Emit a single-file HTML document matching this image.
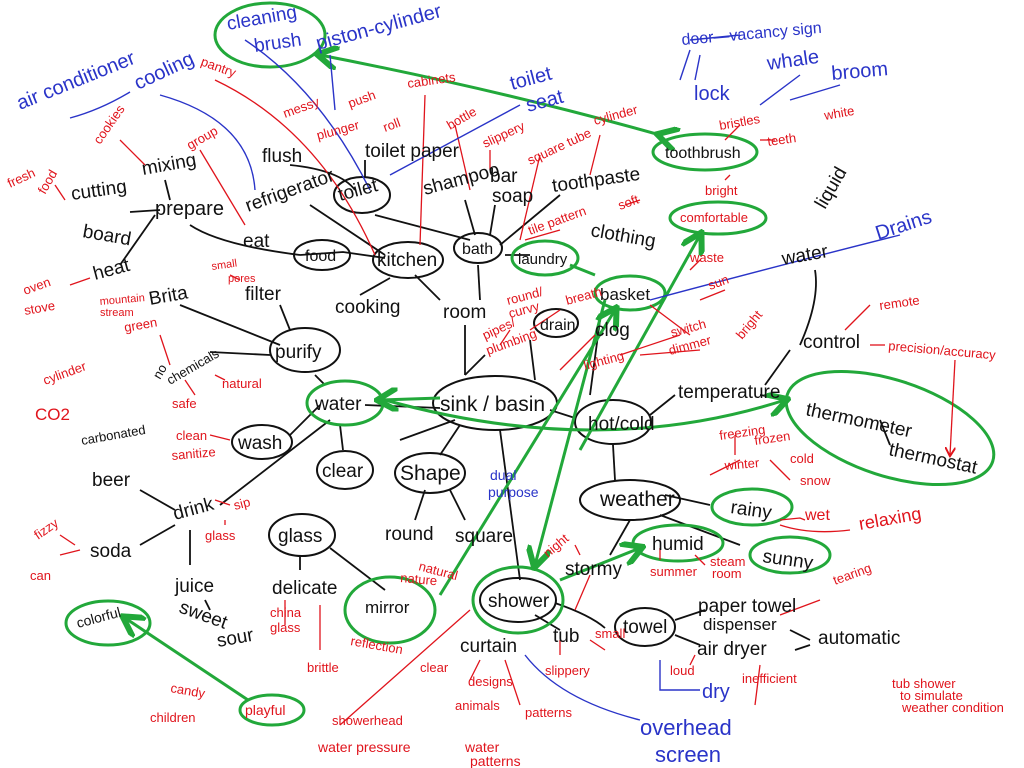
<!DOCTYPE html>
<html><head><meta charset="utf-8"><style>
html,body{margin:0;padding:0;background:#fff;}
svg{display:block;}
text{font-family:"Liberation Sans",sans-serif;}
.k{fill:#111;font-size:19px;}
.r{fill:#e0141c;font-size:13px;}
.b{fill:#2a34c8;font-size:20px;}
.ke{fill:none;stroke:#111;stroke-width:2;}
.ge{fill:none;stroke:#22a83a;stroke-width:3;}
.kl{fill:none;stroke:#111;stroke-width:1.8;}
.rl{fill:none;stroke:#e0141c;stroke-width:1.3;}
.bl{fill:none;stroke:#2a34c8;stroke-width:1.4;}
.gl{fill:none;stroke:#22a83a;stroke-width:3;}
</style></head><body>
<svg width="1024" height="768" viewBox="0 0 1024 768" xmlns="http://www.w3.org/2000/svg">
<defs>
<marker id="ga" markerWidth="8" markerHeight="8" refX="6" refY="4" orient="auto"><path d="M0,0 L7,4 L0,8" fill="none" stroke="#22a83a" stroke-width="2"/></marker>
<marker id="ra" markerWidth="8" markerHeight="8" refX="6" refY="4" orient="auto"><path d="M0,0 L7,4 L0,8" fill="none" stroke="#e0141c" stroke-width="1.5"/></marker>
</defs>

<g class="kl">
<path d="M465,325 L465,375"/><path d="M440,300 L415,275"/><path d="M480,300 L478,265"/>
<path d="M390,278 L360,295"/><path d="M300,255 L343,252 L385,258"/>
<path d="M190,225 Q220,245 300,255"/><path d="M155,215 L120,265"/><path d="M160,210 L130,212"/>
<path d="M165,180 L170,200"/><path d="M310,205 L385,255"/><path d="M375,215 L470,240"/>
<path d="M290,165 Q340,170 355,190"/><path d="M365,178 L365,160"/>
<path d="M465,200 L475,235"/><path d="M495,205 L490,235"/><path d="M500,245 L560,195"/>
<path d="M505,255 L530,255"/><path d="M530,340 L535,380"/><path d="M600,320 L590,395"/>
<path d="M440,408 L365,405"/><path d="M460,425 L440,455"/><path d="M500,430 L520,580"/>
<path d="M455,420 L400,440"/><path d="M550,410 L575,418"/>
<path d="M650,415 L675,395"/><path d="M613,445 L615,480"/>
<path d="M660,515 L740,545"/><path d="M665,495 L710,505"/><path d="M630,520 L610,555"/>
<path d="M555,603 Q590,615 605,628"/><path d="M535,615 L560,630"/>
<path d="M675,620 L705,610"/><path d="M675,635 L700,645"/>
<path d="M790,630 L810,640"/><path d="M795,650 L810,645"/>
<path d="M325,385 L315,375"/><path d="M340,425 L343,450"/><path d="M320,405 L290,435"/>
<path d="M290,330 L280,305"/><path d="M280,345 L180,305"/><path d="M270,355 L210,352"/>
<path d="M330,420 L220,505"/><path d="M300,555 L300,570"/><path d="M330,548 L385,590"/>
<path d="M190,530 L190,565"/><path d="M175,525 L140,545"/><path d="M175,510 L140,490"/>
<path d="M205,600 L210,610"/><path d="M425,490 L415,520"/><path d="M450,490 L465,520"/>
<path d="M485,355 L465,375"/><path d="M800,345 Q820,300 815,270"/><path d="M790,350 L765,385"/>
<path d="M880,420 L890,445"/><path d="M760,395 L790,400"/>
</g>

<g class="ke">
<ellipse cx="495" cy="403" rx="62" ry="27"/>
<ellipse cx="613" cy="422" rx="38" ry="22"/>
<ellipse cx="630" cy="500" rx="50" ry="20"/>
<ellipse cx="518" cy="600" rx="38" ry="22"/>
<ellipse cx="645" cy="627" rx="30" ry="19"/>
<ellipse cx="430" cy="473" rx="35" ry="20"/>
<ellipse cx="345" cy="470" rx="28" ry="19"/>
<ellipse cx="302" cy="535" rx="33" ry="21"/>
<ellipse cx="262" cy="442" rx="30" ry="17"/>
<ellipse cx="305" cy="350" rx="35" ry="22"/>
<ellipse cx="408" cy="260" rx="35" ry="18"/>
<ellipse cx="322" cy="255" rx="28" ry="15"/>
<ellipse cx="362" cy="195" rx="28" ry="18"/>
<ellipse cx="478" cy="248" rx="24" ry="15"/>
<ellipse cx="556" cy="323" rx="22" ry="14"/>
</g>

<g class="ge">
<ellipse cx="270" cy="35" rx="55" ry="32"/>
<ellipse cx="705" cy="152" rx="52" ry="18"/>
<ellipse cx="718" cy="218" rx="48" ry="16"/>
<ellipse cx="545" cy="258" rx="33" ry="17"/>
<ellipse cx="630" cy="293" rx="35" ry="17"/>
<ellipse cx="345" cy="403" rx="38" ry="22"/>
<ellipse cx="890" cy="428" rx="108" ry="48" transform="rotate(18 890 428)"/>
<ellipse cx="752" cy="507" rx="40" ry="18"/>
<ellipse cx="790" cy="555" rx="40" ry="18"/>
<ellipse cx="678" cy="543" rx="45" ry="18"/>
<ellipse cx="518" cy="600" rx="45" ry="33"/>
<ellipse cx="390" cy="610" rx="45" ry="33"/>
<ellipse cx="108" cy="623" rx="42" ry="22"/>
<ellipse cx="272" cy="710" rx="32" ry="15"/>
</g>

<g class="gl">
<path d="M660,135 Q500,90 320,55" marker-end="url(#ga)" marker-start="url(#ga)"/>
<path d="M580,450 L700,235" marker-end="url(#ga)"/>
<path d="M605,300 L535,565" marker-end="url(#ga)"/>
<path d="M595,275 L570,265"/>
<path d="M440,595 L615,310" marker-end="url(#ga)"/>
<path d="M385,400 Q600,460 785,400" marker-end="url(#ga)"/>
<path d="M440,398 L380,400" marker-end="url(#ga)"/>
<path d="M560,580 L640,548" marker-end="url(#ga)"/>
<path d="M248,700 L125,618" marker-end="url(#ga)"/>
</g>

<g class="rl">
<path d="M215,80 Q320,130 375,255"/><path d="M425,95 L420,245"/><path d="M455,125 L470,190"/>
<path d="M120,140 L145,165"/><path d="M200,150 L245,225"/><path d="M55,185 L65,200"/>
<path d="M70,285 L90,278"/><path d="M230,275 L240,280"/><path d="M160,335 L170,365"/>
<path d="M185,380 L195,395"/><path d="M215,375 L225,380"/><path d="M210,435 L230,440"/>
<path d="M215,500 L230,505"/><path d="M60,555 L80,550"/><path d="M60,535 L75,545"/>
<path d="M225,525 L225,520"/><path d="M285,600 L285,625"/><path d="M320,605 L320,650"/>
<path d="M340,725 L470,610"/><path d="M575,610 L590,575"/><path d="M560,640 L560,655"/>
<path d="M590,640 L605,650"/><path d="M480,660 L470,680"/><path d="M505,660 L520,705"/>
<path d="M755,705 L760,665"/><path d="M690,665 L695,655"/><path d="M780,615 L820,600"/>
<path d="M780,520 L800,518 L805,520"/><path d="M780,525 Q810,535 850,530"/>
<path d="M740,460 L710,475"/><path d="M770,460 L790,480"/><path d="M735,435 L735,455"/>
<path d="M660,548 L660,560"/><path d="M695,555 L705,565"/><path d="M575,545 L580,555"/>
<path d="M870,305 L845,330"/><path d="M870,345 L885,345"/><path d="M955,360 L950,455" marker-end="url(#ra)"/>
<path d="M560,370 L595,335"/><path d="M620,355 L680,335"/><path d="M640,355 L700,350"/>
<path d="M690,270 L700,260"/><path d="M700,300 L725,290"/><path d="M650,305 L690,335"/>
<path d="M560,230 L525,240"/><path d="M500,345 L510,330"/><path d="M530,330 L560,310"/>
<path d="M540,155 L520,240"/><path d="M600,135 L590,175"/><path d="M730,175 L725,180"/>
<path d="M760,140 L775,140"/><path d="M740,125 L725,140"/><path d="M625,205 L640,200"/>
<path d="M490,150 L490,170"/>
</g>

<g class="bl">
<path d="M70,118 Q100,110 130,92"/><path d="M160,95 Q250,120 255,190"/>
<path d="M245,40 Q320,90 370,190"/><path d="M330,55 L335,110"/><path d="M390,175 L520,105"/>
<path d="M690,40 L740,35"/><path d="M700,55 L695,80"/><path d="M680,80 L690,50"/>
<path d="M760,105 L800,75"/><path d="M790,100 L840,85"/><path d="M650,300 Q800,260 900,235"/>
<path d="M525,655 Q560,700 640,720"/><path d="M660,660 L660,690 L700,690"/>
</g>

<g class="k">
<text x="440" y="411" font-size="21">sink / basin</text>
<text x="588" y="430">hot/cold</text>
<text x="678" y="398">temperature</text>
<text x="805" y="415" transform="rotate(12 805 415)">thermometer</text>
<text x="888" y="455" transform="rotate(12 888 455)">thermostat</text>
<text x="803" y="348">control</text>
<text x="783" y="265" transform="rotate(-10 783 265)">water</text>
<text x="825" y="210" transform="rotate(-60 825 210)">liquid</text>
<text x="600" y="506" font-size="21">weather</text>
<text x="730" y="513" transform="rotate(8 730 513)">rainy</text>
<text x="762" y="562" transform="rotate(8 762 562)">sunny</text>
<text x="652" y="550">humid</text>
<text x="565" y="575">stormy</text>
<text x="488" y="607">shower</text>
<text x="553" y="642">tub</text>
<text x="460" y="652">curtain</text>
<text x="623" y="633">towel</text>
<text x="698" y="612">paper towel</text>
<text x="703" y="630" font-size="17">dispenser</text>
<text x="697" y="655">air dryer</text>
<text x="818" y="644">automatic</text>
<text x="400" y="480" font-size="21">Shape</text>
<text x="385" y="540">round</text>
<text x="455" y="542">square</text>
<text x="322" y="477">clear</text>
<text x="278" y="542">glass</text>
<text x="272" y="594">delicate</text>
<text x="365" y="613" font-size="17">mirror</text>
<text x="315" y="410">water</text>
<text x="238" y="449">wash</text>
<text x="275" y="358">purify</text>
<text x="245" y="300">filter</text>
<text x="150" y="305" transform="rotate(-10 150 305)">Brita</text>
<text x="160" y="380" font-size="13" transform="rotate(-60 160 380)">no</text>
<text x="170" y="385" font-size="13" transform="rotate(-30 170 385)">chemicals</text>
<text x="82" y="445" font-size="13" transform="rotate(-10 82 445)">carbonated</text>
<text x="92" y="486">beer</text>
<text x="175" y="520" transform="rotate(-15 175 520)">drink</text>
<text x="90" y="557">soda</text>
<text x="175" y="592">juice</text>
<text x="178" y="612" transform="rotate(20 178 612)">sweet</text>
<text x="218" y="647" transform="rotate(-10 218 647)">sour</text>
<text x="78" y="628" font-size="14" transform="rotate(-15 78 628)">colorful</text>
<text x="245" y="715" font-size="14" fill="#e0141c">playful</text>
<text x="443" y="318">room</text>
<text x="335" y="313">cooking</text>
<text x="377" y="266">kitchen</text>
<text x="305" y="261" font-size="16">food</text>
<text x="243" y="247">eat</text>
<text x="155" y="215" font-size="20">prepare</text>
<text x="143" y="175" transform="rotate(-10 143 175)">mixing</text>
<text x="72" y="200" transform="rotate(-8 72 200)">cutting</text>
<text x="82" y="237" transform="rotate(10 82 237)">board</text>
<text x="95" y="280" transform="rotate(-15 95 280)">heat</text>
<text x="248" y="212" transform="rotate(-20 248 212)">refrigerator</text>
<text x="262" y="162">flush</text>
<text x="340" y="201" transform="rotate(-15 340 201)">toilet</text>
<text x="365" y="157">toilet paper</text>
<text x="425" y="195" transform="rotate(-15 425 195)">shampoo</text>
<text x="462" y="254" font-size="16">bath</text>
<text x="490" y="182">bar</text>
<text x="492" y="202">soap</text>
<text x="553" y="192" transform="rotate(-8 553 192)">toothpaste</text>
<text x="665" y="158" font-size="16">toothbrush</text>
<text x="590" y="236" transform="rotate(10 590 236)">clothing</text>
<text x="518" y="264" font-size="15">laundry</text>
<text x="600" y="300" font-size="17">basket</text>
<text x="540" y="330" font-size="16">drain</text>
<text x="595" y="336">clog</text>
<text x="228" y="30" fill="#2a34c8" transform="rotate(-10 228 30)">cleaning</text>
<text x="255" y="52" fill="#2a34c8" transform="rotate(-8 255 52)">brush</text>
</g>

<g class="b">
<text x="318" y="50" transform="rotate(-15 318 50)">piston-cylinder</text>
<text x="20" y="110" transform="rotate(-22 20 110)">air conditioner</text>
<text x="138" y="90" transform="rotate(-25 138 90)">cooling</text>
<text x="512" y="90" transform="rotate(-15 512 90)">toilet</text>
<text x="528" y="112" transform="rotate(-15 528 112)">seat</text>
<text x="682" y="45" font-size="16" transform="rotate(-5 682 45)">door—vacancy sign</text>
<text x="694" y="100">lock</text>
<text x="768" y="70" transform="rotate(-8 768 70)">whale</text>
<text x="832" y="80" transform="rotate(-5 832 80)">broom</text>
<text x="878" y="240" transform="rotate(-18 878 240)">Drains</text>
<text x="490" y="480" font-size="14">dual</text>
<text x="488" y="497" font-size="14">purpose</text>
<text x="702" y="698">dry</text>
<text x="640" y="735" font-size="22">overhead</text>
<text x="655" y="762" font-size="22">screen</text>
</g>

<g class="r">
<text x="200" y="65" transform="rotate(20 200 65)">pantry</text>
<text x="285" y="118" transform="rotate(-20 285 118)">messy</text>
<text x="318" y="140" transform="rotate(-15 318 140)">plunger</text>
<text x="350" y="108" transform="rotate(-20 350 108)">push</text>
<text x="385" y="132" transform="rotate(-20 385 132)">roll</text>
<text x="408" y="88" transform="rotate(-8 408 88)">cabinets</text>
<text x="450" y="130" transform="rotate(-30 450 130)">bottle</text>
<text x="485" y="148" transform="rotate(-25 485 148)">slippery</text>
<text x="530" y="165" transform="rotate(-25 530 165)">square tube</text>
<text x="595" y="125" transform="rotate(-15 595 125)">cylinder</text>
<text x="530" y="235" transform="rotate(-20 530 235)">tile pattern</text>
<text x="620" y="210" transform="rotate(-20 620 210)">soft</text>
<text x="705" y="195">bright</text>
<text x="720" y="130" transform="rotate(-10 720 130)">bristles</text>
<text x="768" y="146" transform="rotate(-8 768 146)">teeth</text>
<text x="825" y="120" transform="rotate(-10 825 120)">white</text>
<text x="680" y="222" font-size="13" fill="#e0141c">comfortable</text>
<text x="690" y="262">waste</text>
<text x="710" y="290" transform="rotate(-20 710 290)">sun</text>
<text x="742" y="340" transform="rotate(-50 742 340)">bright</text>
<text x="672" y="337" transform="rotate(-15 672 337)">switch</text>
<text x="670" y="355" transform="rotate(-15 670 355)">dimmer</text>
<text x="585" y="370" transform="rotate(-15 585 370)">lighting</text>
<text x="508" y="305" transform="rotate(-15 508 305)">round/</text>
<text x="510" y="318" transform="rotate(-15 510 318)">curvy</text>
<text x="567" y="305" transform="rotate(-15 567 305)">breath</text>
<text x="485" y="340" transform="rotate(-25 485 340)">pipes/</text>
<text x="488" y="355" transform="rotate(-20 488 355)">plumbing</text>
<text x="880" y="310" transform="rotate(-8 880 310)">remote</text>
<text x="888" y="350" transform="rotate(5 888 350)">precision/accuracy</text>
<text x="720" y="440" transform="rotate(-8 720 440)">freezing</text>
<text x="755" y="445" transform="rotate(-8 755 445)">frozen</text>
<text x="725" y="470" transform="rotate(-5 725 470)">winter</text>
<text x="790" y="463">cold</text>
<text x="800" y="485">snow</text>
<text x="805" y="520" font-size="16">wet</text>
<text x="860" y="530" font-size="18" transform="rotate(-10 860 530)">relaxing</text>
<text x="835" y="585" transform="rotate(-20 835 585)">tearing</text>
<text x="650" y="576">summer</text>
<text x="710" y="566">steam</text>
<text x="712" y="578">room</text>
<text x="548" y="558" transform="rotate(-40 548 558)">night</text>
<text x="742" y="683">inefficient</text>
<text x="670" y="675">loud</text>
<text x="595" y="638">small</text>
<text x="545" y="675">slippery</text>
<text x="420" y="672">clear</text>
<text x="468" y="686">designs</text>
<text x="455" y="710">animals</text>
<text x="525" y="717">patterns</text>
<text x="332" y="725">showerhead</text>
<text x="318" y="752" font-size="14">water pressure</text>
<text x="465" y="752" font-size="14">water</text>
<text x="470" y="766" font-size="14">patterns</text>
<text x="350" y="645" transform="rotate(10 350 645)">reflection</text>
<text x="418" y="570" transform="rotate(15 418 570)">natural</text>
<text x="400" y="582" transform="rotate(5 400 582)">nature</text>
<text x="270" y="617">china</text>
<text x="270" y="632">glass</text>
<text x="307" y="672">brittle</text>
<text x="170" y="692" transform="rotate(10 170 692)">candy</text>
<text x="150" y="722">children</text>
<text x="30" y="580">can</text>
<text x="38" y="540" transform="rotate(-35 38 540)">fizzy</text>
<text x="235" y="510" transform="rotate(-15 235 510)">sip</text>
<text x="205" y="540">glass</text>
<text x="176" y="440">clean</text>
<text x="172" y="460" transform="rotate(-5 172 460)">sanitize</text>
<text x="172" y="408">safe</text>
<text x="222" y="388">natural</text>
<text x="125" y="332" transform="rotate(-10 125 332)">green</text>
<text x="100" y="305" font-size="11" transform="rotate(-5 100 305)">mountain</text>
<text x="100" y="316" font-size="11">stream</text>
<text x="212" y="270" font-size="11" transform="rotate(-8 212 270)">small</text>
<text x="228" y="282" font-size="11">pores</text>
<text x="25" y="295" transform="rotate(-20 25 295)">oven</text>
<text x="25" y="315" transform="rotate(-10 25 315)">stove</text>
<text x="10" y="188" transform="rotate(-25 10 188)">fresh</text>
<text x="45" y="195" transform="rotate(-60 45 195)">food</text>
<text x="100" y="145" transform="rotate(-55 100 145)">cookies</text>
<text x="190" y="150" transform="rotate(-30 190 150)">group</text>
<text x="45" y="385" transform="rotate(-20 45 385)">cylinder</text>
<text x="35" y="420" font-size="17">CO2</text>
<text x="892" y="688">tub shower</text>
<text x="900" y="700">to simulate</text>
<text x="902" y="712">weather condition</text>
</g>
</svg>
</body></html>
